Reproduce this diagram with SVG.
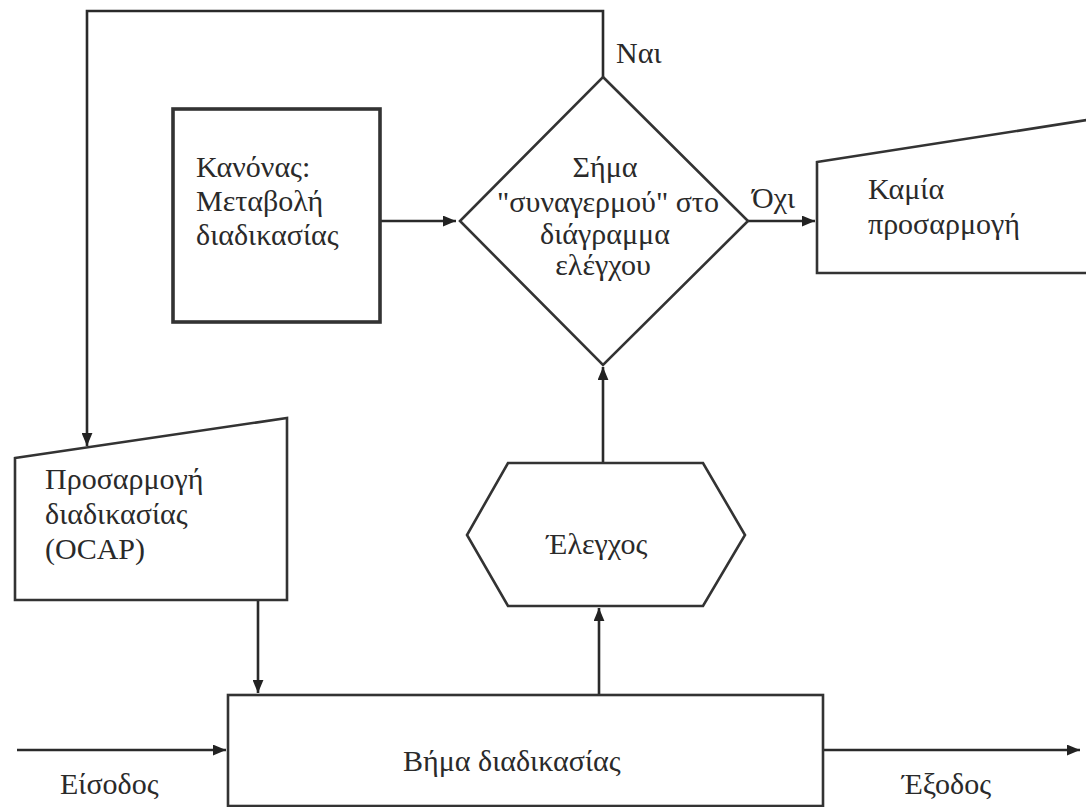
<svg xmlns="http://www.w3.org/2000/svg" width="1086" height="807" viewBox="0 0 1086 807" font-family="'Liberation Serif', 'Times New Roman', Times, 'DejaVu Serif', serif">
  <defs>
    <marker id="arrow" viewBox="0 0 12 10" refX="12" refY="5" markerWidth="13" markerHeight="11" markerUnits="userSpaceOnUse" orient="auto">
      <path d="M0,0 L12,5 L0,10 z" fill="#222"/>
    </marker>
    <style>
      .shape { fill: #fff; stroke: #333; stroke-width: 2.6; }
      .thick { stroke-width: 3.6; }
      .conn { fill: none; stroke: #2a2a2a; stroke-width: 2.6; }
      .arr { marker-end: url(#arrow); }
      .lbl { font-family: 'Liberation Serif', 'Times New Roman', Times, 'DejaVu Serif', serif; font-size: 30px; fill: #2a2a2a; }
      .mid { text-anchor: middle; }
    </style>
  </defs>
  <rect width="1086" height="807" fill="#fff"/>

  <!-- connectors -->
  <g id="connectors">
    <polyline class="conn arr" points="603,77 603,11 87,11 87,446"/>
    <line class="conn arr" x1="380" y1="221" x2="456" y2="221"/>
    <line class="conn arr" x1="748" y1="221" x2="815" y2="221"/>
    <line class="conn arr" x1="603" y1="463" x2="603" y2="367"/>
    <line class="conn arr" x1="599" y1="695" x2="599" y2="608"/>
    <line class="conn arr" x1="258" y1="600" x2="258" y2="693"/>
    <line class="conn arr" x1="17" y1="750" x2="226" y2="750"/>
    <line class="conn arr" x1="823" y1="750" x2="1080" y2="750"/>
    <text class="lbl" x="616" y="63">Ναι</text>
    <text class="lbl" x="752" y="208">Όχι</text>
    <text class="lbl" x="60" y="794">Είσοδος</text>
    <text class="lbl" x="902" y="794">Έξοδος</text>
  </g>

  <!-- rule box -->
  <g id="rule">
    <rect class="shape thick" x="173" y="109" width="207" height="213"/>
    <text class="lbl" x="196" y="177">Κανόνας:</text>
    <text class="lbl" x="196" y="211">Μεταβολή</text>
    <text class="lbl" x="196" y="245">διαδικασίας</text>
  </g>

  <!-- decision -->
  <g id="decision">
    <polygon class="shape" points="603,77 748,221 603,365 460,221"/>
    <text class="lbl mid" x="605" y="177">Σήμα</text>
    <text class="lbl mid" x="608" y="212">"συναγερμού" στο</text>
    <text class="lbl mid" x="605" y="244">διάγραμμα</text>
    <text class="lbl mid" x="603" y="275">ελέγχου</text>
  </g>

  <!-- no adjustment -->
  <g id="no-adjustment">
    <polygon class="shape" points="817,162 1100,118 1100,273 817,273"/>
    <text class="lbl" x="868" y="199">Καμία</text>
    <text class="lbl" x="868" y="234">προσαρμογή</text>
  </g>

  <!-- OCAP -->
  <g id="ocap">
    <polygon class="shape" points="15,458 287,418 287,600 15,600"/>
    <text class="lbl" x="45" y="489">Προσαρμογή</text>
    <text class="lbl" x="45" y="524">διαδικασίας</text>
    <text class="lbl" x="45" y="559">(OCAP)</text>
  </g>

  <!-- check -->
  <g id="check">
    <polygon class="shape" points="508,463 703,463 745,535 703,606 508,606 467,535"/>
    <text class="lbl mid" x="597" y="554">Έλεγχος</text>
  </g>

  <!-- process step -->
  <g id="process-step">
    <rect class="shape" x="228" y="695" width="595" height="111"/>
    <text class="lbl" x="403" y="771">Βήμα διαδικασίας</text>
  </g>
</svg>
